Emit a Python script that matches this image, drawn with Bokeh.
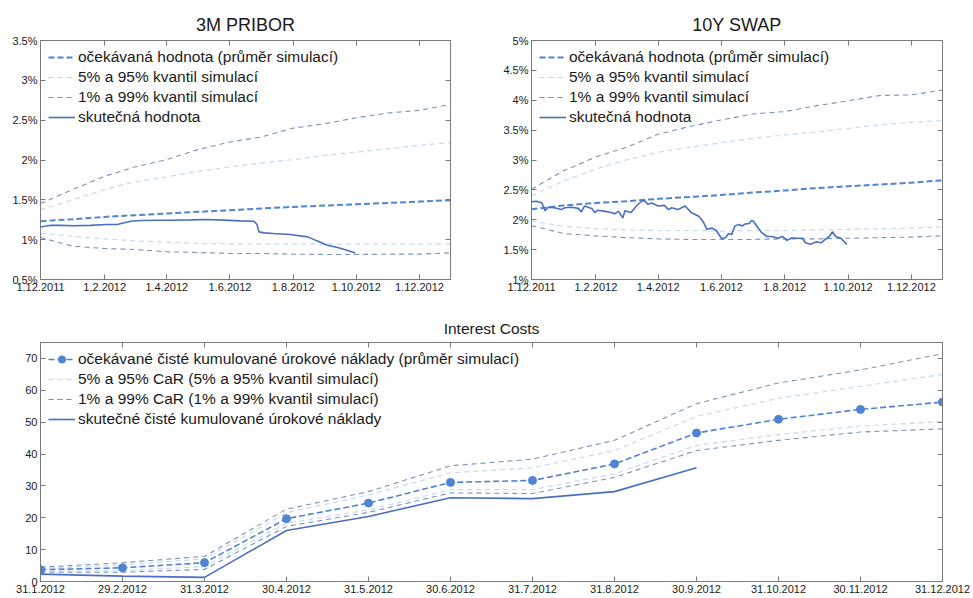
from datetime import date
from bokeh.plotting import figure
from bokeh.models import Range1d, FixedTicker, LinearAxis, Legend, LegendItem, CustomJSTickFormatter
from bokeh.layouts import column, row
from bokeh.embed import file_html
from bokeh.resources import INLINE

FONT = "Liberation Sans"
C_MEAN = "#4f84d3"
C_LIGHT = "#c4d9f2"
C_DARK = "#7c91bd"
C_ACT = "#4a6fc2"
AX = "#7a7a7a"

# ---------------- data ----------------
start_label = "1.12.2011"
end_label = "31.12.2012"
top_x_tick_labels = ["1.12.2011", "1.2.2012", "1.4.2012", "1.6.2012",
                     "1.8.2012", "1.10.2012", "1.12.2012"]

# days since 1.12.2011 at which the simulated paths were read
sim_days = [0, 31, 62, 91, 122, 152, 183, 213, 244, 275, 305, 336, 366, 396]

# 3M PRIBOR (%)
pribor_yticks = [0.5, 1.0, 1.5, 2.0, 2.5, 3.0, 3.5]
pribor_ytick_labels = ["0.5%", "1%", "1.5%", "2%", "2.5%", "3%", "3.5%"]
pribor_mean = [1.232, 1.257, 1.286, 1.307, 1.328, 1.349, 1.370, 1.391, 1.411, 1.428, 1.445, 1.462, 1.478, 1.495]
pribor_q95 = [1.378, 1.500, 1.629, 1.725, 1.787, 1.858, 1.913, 1.963, 2.005, 2.059, 2.100, 2.142, 2.184, 2.218]
pribor_q05 = [1.077, 1.044, 1.010, 0.985, 0.969, 0.952, 0.948, 0.944, 0.944, 0.944, 0.944, 0.944, 0.944, 0.948]
pribor_q99 = [1.453, 1.629, 1.796, 1.913, 2.005, 2.130, 2.226, 2.289, 2.400, 2.456, 2.530, 2.590, 2.623, 2.698]
pribor_q01 = [1.027, 0.918, 0.889, 0.877, 0.848, 0.839, 0.827, 0.827, 0.818, 0.814, 0.814, 0.818, 0.818, 0.835]
pribor_act_days = [0, 10, 19, 32, 48, 64, 74, 80, 87, 97, 113, 129, 145, 161, 177, 193, 206, 209,
                   211, 216, 225, 241, 258, 267, 277, 287, 296, 304]
pribor_act = [1.16, 1.18, 1.18, 1.174, 1.18, 1.19, 1.19, 1.21, 1.232, 1.24, 1.244, 1.244, 1.248,
              1.253, 1.245, 1.236, 1.232, 1.194, 1.098, 1.085, 1.077, 1.064, 1.035, 0.985, 0.931,
              0.902, 0.868, 0.834]

# 10Y SWAP (%)
swap_yticks = [1.0, 1.5, 2.0, 2.5, 3.0, 3.5, 4.0, 4.5, 5.0]
swap_ytick_labels = ["1%", "1.5%", "2%", "2.5%", "3%", "3.5%", "4%", "4.5%", "5%"]
swap_mean = [2.175, 2.24, 2.28, 2.31, 2.35, 2.38, 2.415, 2.455, 2.49, 2.53, 2.56, 2.59, 2.62, 2.66]
swap_q95 = [2.40, 2.65, 2.85, 3.00, 3.13, 3.21, 3.29, 3.36, 3.42, 3.47, 3.53, 3.59, 3.63, 3.66]
swap_q05 = [1.98, 1.89, 1.85, 1.83, 1.82, 1.82, 1.81, 1.82, 1.82, 1.83, 1.84, 1.85, 1.86, 1.88]
swap_q99 = [2.51, 2.82, 3.05, 3.21, 3.43, 3.56, 3.67, 3.77, 3.81, 3.91, 3.99, 4.08, 4.09, 4.17]
swap_q01 = [1.90, 1.77, 1.73, 1.70, 1.68, 1.67, 1.67, 1.67, 1.68, 1.68, 1.69, 1.70, 1.71, 1.73]
swap_act_days = [0, 5, 10, 13, 16, 22, 29, 32, 39, 45, 48, 51, 58, 61, 64, 71, 77, 80, 84, 88, 90,
                 96, 101, 106, 109, 112, 116, 122, 128, 132, 135, 141, 148, 154, 161, 165, 169,
                 174, 178, 183, 187, 190, 193, 196, 200, 203, 206, 210, 212, 214, 218, 222, 227,
                 232, 237, 242, 246, 251, 256, 261, 264, 269, 274, 279, 283, 287, 290, 293, 298,
                 303, 304]
swap_act = [2.30, 2.31, 2.28, 2.15, 2.21, 2.20, 2.17, 2.20, 2.21, 2.19, 2.13, 2.23, 2.19, 2.12,
            2.16, 2.14, 2.12, 2.10, 2.14, 2.03, 2.15, 2.12, 2.23, 2.31, 2.32, 2.26, 2.28, 2.23,
            2.24, 2.17, 2.20, 2.17, 2.23, 2.12, 2.06, 1.98, 1.84, 1.86, 1.82, 1.69, 1.70, 1.77,
            1.755, 1.895, 1.92, 1.895, 1.93, 1.94, 1.99, 1.97, 1.87, 1.78, 1.72, 1.72, 1.69,
            1.72, 1.655, 1.70, 1.69, 1.69, 1.615, 1.59, 1.63, 1.615, 1.67, 1.72, 1.80, 1.72,
            1.69, 1.60, 1.59]

# Interest costs
cost_categories = ["31.1.2012", "29.2.2012", "31.3.2012", "30.4.2012", "31.5.2012", "30.6.2012",
                   "31.7.2012", "31.8.2012", "30.9.2012", "31.10.2012", "30.11.2012", "31.12.2012"]
cost_yticks = [0, 10, 20, 30, 40, 50, 60, 70]
cost_mean = [3.7, 4.3, 5.9, 19.7, 24.6, 31.1, 31.7, 36.9, 46.6, 50.9, 54.0, 56.3]
cost_q99 = [4.5, 5.9, 7.9, 22.7, 28.2, 36.3, 38.4, 44.3, 55.8, 62.3, 66.4, 71.5]
cost_q95 = [4.1, 5.2, 7.1, 21.6, 27.2, 34.1, 35.7, 41.1, 51.8, 57.5, 61.2, 65.0]
cost_q05 = [3.2, 3.4, 4.7, 18.3, 22.5, 28.8, 28.8, 33.8, 42.7, 46.1, 48.8, 50.2]
cost_q01 = [2.9, 2.9, 3.8, 17.3, 21.7, 27.8, 27.6, 32.7, 41.1, 44.3, 46.9, 47.9]
cost_act = [2.3, 1.7, 1.3, 16.0, 20.4, 26.3, 26.0, 28.2, 35.7]

top_legend = ["očekávaná hodnota (průměr simulací)", "5% a 95% kvantil simulací",
              "1% a 99% kvantil simulací", "skutečná hodnota"]
cost_legend = ["očekávané čisté kumulované úrokové náklady (průměr simulací)",
               "5% a 95% CaR (5% a 95% kvantil simulací)",
               "1% a 99% CaR (1% a 99% kvantil simulací)",
               "skutečné čisté kumulované úrokové náklady"]


def parse(label):
    d, m, y = map(int, label.split("."))
    return date(y, m, d)


def day_of(label):
    return (parse(label) - parse(start_label)).days


def style_axis(ax, show_labels=True):
    ax.axis_line_color = AX
    ax.major_tick_line_color = AX
    ax.major_tick_in = 5
    ax.major_tick_out = 0
    ax.minor_tick_line_color = None
    ax.major_label_text_font = FONT
    ax.major_label_text_color = "#1a1a1a"
    ax.major_label_text_font_size = "11px"
    if show_labels:
        ax.major_label_standoff = 3
    else:
        ax.formatter = CustomJSTickFormatter(code="return ''")
        ax.major_label_standoff = 0


def base_fig(title, w, h, bl, br, bt, bb, xr, yr, xt, xlab, yt, ylab, tsize, tstand):
    p = figure(width=w, height=h, output_backend="svg", toolbar_location=None,
               x_range=xr, y_range=yr, min_border_left=bl, min_border_right=br,
               min_border_top=bt, min_border_bottom=bb, title=title)
    p.title.align = "center"
    p.title.text_font = FONT
    p.title.text_font_style = "normal"
    p.title.text_font_size = tsize
    p.title.text_color = "#1a1a1a"
    p.title.standoff = tstand
    p.xgrid.visible = False
    p.ygrid.visible = False
    p.outline_line_color = AX
    p.background_fill_color = "white"
    p.border_fill_color = "white"
    p.xaxis.ticker = FixedTicker(ticks=xt)
    p.xaxis.major_label_overrides = dict(zip(xt, xlab))
    p.yaxis.ticker = FixedTicker(ticks=yt)
    p.yaxis.major_label_overrides = dict(zip(yt, ylab))
    style_axis(p.xaxis[0])
    style_axis(p.yaxis[0])
    top = LinearAxis(ticker=FixedTicker(ticks=xt))
    style_axis(top, False)
    p.add_layout(top, "above")
    right = LinearAxis(ticker=FixedTicker(ticks=yt))
    style_axis(right, False)
    p.add_layout(right, "right")
    return p


def legend_for(p, items):
    lg = Legend(items=[LegendItem(label=l, renderers=r) for l, r in items])
    lg.location = "top_left"
    lg.margin = 8
    lg.padding = 0
    lg.border_line_color = None
    lg.background_fill_alpha = 0
    lg.label_text_font = FONT
    lg.label_text_font_size = "15.5px"
    lg.label_text_color = "#1a1a1a"
    lg.glyph_width = 27
    lg.glyph_height = 18
    lg.label_height = 18
    lg.label_standoff = 3
    lg.spacing = 2
    p.add_layout(lg)


def rate_fig(title, yt, ylab, mean, q95, q05, q99, q01, act_days, act, w, bl, br):
    xt = [day_of(s) for s in top_x_tick_labels]
    xr = Range1d(0, day_of(end_label))
    yr = Range1d(yt[0], yt[-1])
    p = base_fig(title, w, 305, bl, br, 40, 26, xr, yr, xt, top_x_tick_labels, yt, ylab, "18px", 11)
    r95a = p.line(sim_days, q95, line_color=C_LIGHT, line_width=1.2, line_dash="5 4")
    r95b = p.line(sim_days, q05, line_color=C_LIGHT, line_width=1.2, line_dash="5 4")
    r99a = p.line(sim_days, q99, line_color=C_DARK, line_width=1.1, line_dash="5 4")
    r99b = p.line(sim_days, q01, line_color=C_DARK, line_width=1.1, line_dash="5 4")
    rm = p.line(sim_days, mean, line_color=C_MEAN, line_width=2, line_dash="6 3")
    ra = p.line(act_days, act, line_color=C_ACT, line_width=1.6)
    legend_for(p, [(top_legend[0], [rm]), (top_legend[1], [r95a, r95b]),
                   (top_legend[2], [r99a, r99b]), (top_legend[3], [ra])])
    return p


p1 = rate_fig("3M PRIBOR", pribor_yticks, pribor_ytick_labels, pribor_mean, pribor_q95,
              pribor_q05, pribor_q99, pribor_q01, pribor_act_days, pribor_act, 490, 40, 40)
p2 = rate_fig("10Y SWAP", swap_yticks, swap_ytick_labels, swap_mean, swap_q95,
              swap_q05, swap_q99, swap_q01, swap_act_days, swap_act, 483, 41, 31)

idx = list(range(len(cost_categories)))
p3 = base_fig("Interest Costs", 973, 293, 40, 31, 37, 17, Range1d(0, len(idx) - 1), Range1d(0, 75),
              idx, cost_categories, cost_yticks, [str(v) for v in cost_yticks], "15.5px", 11)
c95a = p3.line(idx, cost_q95, line_color=C_LIGHT, line_width=1.2, line_dash="5 4")
c95b = p3.line(idx, cost_q05, line_color=C_LIGHT, line_width=1.2, line_dash="5 4")
c99a = p3.line(idx, cost_q99, line_color=C_DARK, line_width=1.1, line_dash="5 4")
c99b = p3.line(idx, cost_q01, line_color=C_DARK, line_width=1.1, line_dash="5 4")
cm = p3.line(idx, cost_mean, line_color=C_MEAN, line_width=1.6, line_dash="6 3")
cs = p3.scatter(idx, cost_mean, size=8, marker="circle", fill_color=C_MEAN, line_color=C_MEAN)
ca = p3.line(idx[:len(cost_act)], cost_act, line_color=C_ACT, line_width=1.6)
legend_for(p3, [(cost_legend[0], [cm, cs]), (cost_legend[1], [c95a, c95b]),
                (cost_legend[2], [c99a, c99b]), (cost_legend[3], [ca])])

layout = column(row(p1, p2), p3)
open("out.html", "w").write(file_html(layout, INLINE))
